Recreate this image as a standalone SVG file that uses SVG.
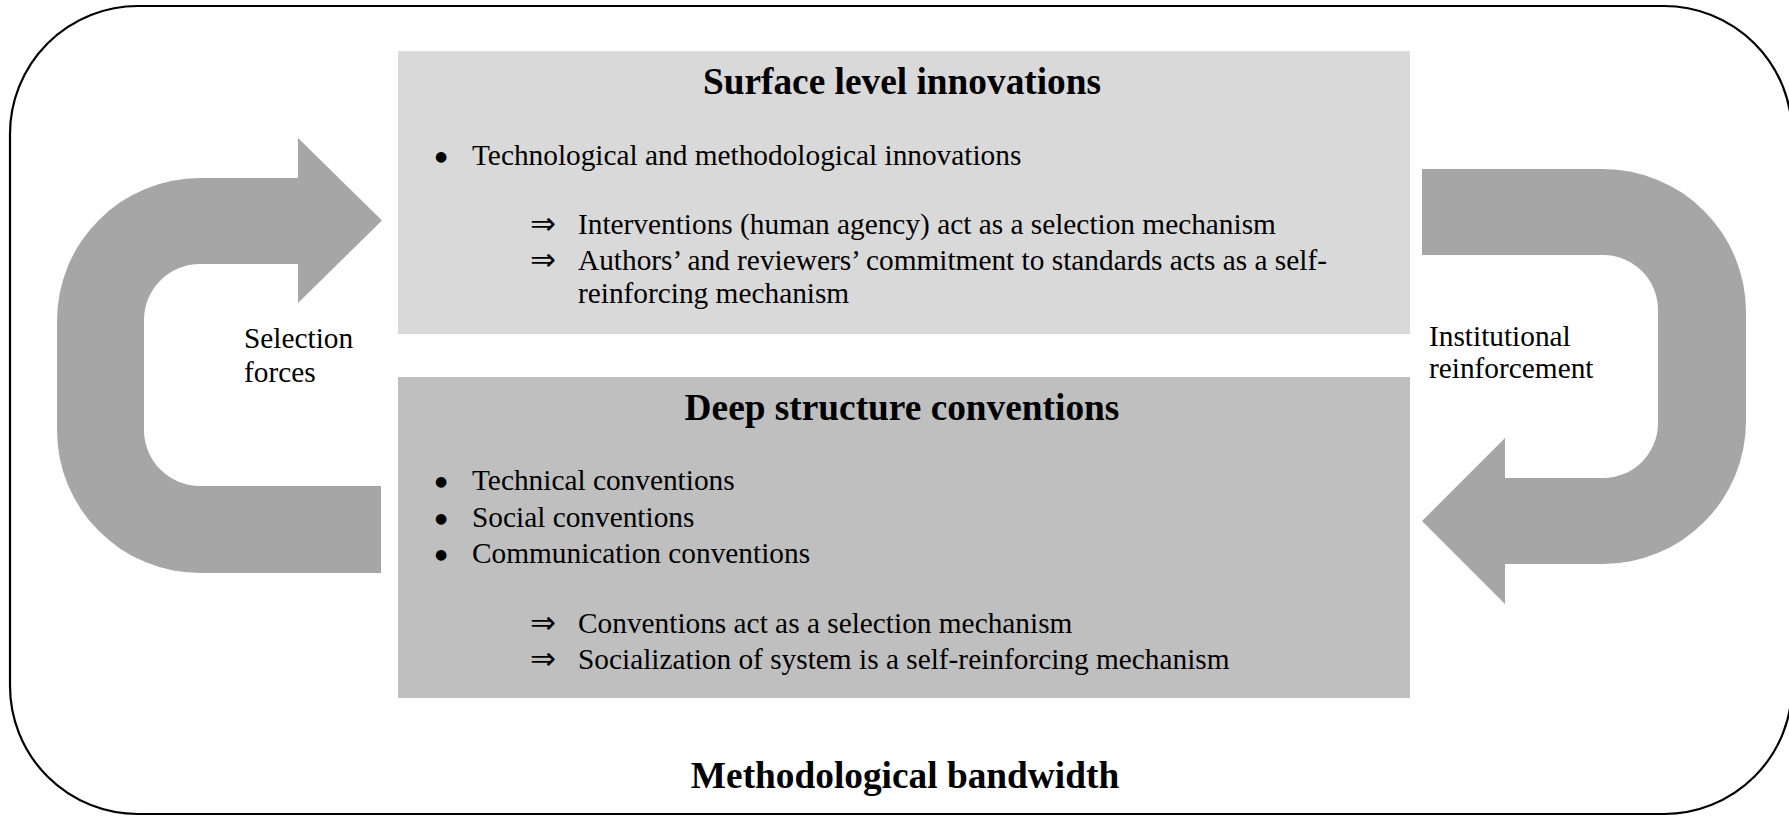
<svg xmlns="http://www.w3.org/2000/svg" width="1789" height="816" viewBox="0 0 1789 816">
  <style>
    text { font-family: 'Liberation Serif', 'Times New Roman', 'DejaVu Serif', serif; fill: #000; }
    .title { font-size: 37.33px; font-weight: bold; text-anchor: middle; }
    .body { font-size: 29.33px; }
    .bullet { font-family: 'DejaVu Sans', sans-serif; font-size: 14px; }
    .imp { font-family: 'Liberation Sans', 'DejaVu Sans', sans-serif; font-size: 31px; }
    .arrow { fill: #a6a6a6; stroke: none; }
    .frame { fill: #fff; stroke: #000; stroke-width: 2.2; }
  </style>
  <rect x="0" y="0" width="1789" height="816" fill="#fff"/>
  <g id="frame">
    <rect class="frame" x="10" y="6" width="1782" height="808" rx="128" ry="128"/>
  </g>

  <g id="connectors">
    <path id="arrow-selection" class="arrow" d="M 381 573 L 200 573 A 143 143 0 0 1 57 430 L 57 321 A 143 143 0 0 1 200 178 L 298 178 L 298 138 L 382 220.5 L 298 303 L 298 264 L 200 264 A 56 56 0 0 0 144 320 L 144 430 A 56 56 0 0 0 200 486 L 381 486 Z"/>
    <path id="arrow-institutional" class="arrow" d="M 1422 169 L 1603 169 A 143 143 0 0 1 1746 312 L 1746 421 A 143 143 0 0 1 1603 564 L 1505 564 L 1505 604 L 1422 521 L 1505 438 L 1505 478 L 1603 478 A 55 55 0 0 0 1658 423 L 1658 310 A 55 55 0 0 0 1603 255 L 1422 255 Z"/>
  </g>

  <g id="node-surface">
    <rect x="398" y="51" width="1012" height="283" fill="#d9d9d9"/>
    <text class="title" x="902" y="94">Surface level innovations</text>
    <text class="bullet" x="435" y="161">●</text>
    <text class="body" x="472" y="165">Technological and methodological innovations</text>
    <text class="imp" x="530" y="234">⇒</text>
    <text class="body" x="578" y="234">Interventions (human agency) act as a selection mechanism</text>
    <text class="imp" x="530" y="270">⇒</text>
    <text class="body" x="578" y="270">Authors’ and reviewers’ commitment to standards acts as a self-</text>
    <text class="body" x="578" y="303">reinforcing mechanism</text>
  </g>

  <g id="node-deep">
    <rect x="398" y="377" width="1012" height="321" fill="#bfbfbf"/>
    <text class="title" x="902" y="420">Deep structure conventions</text>
    <text class="bullet" x="435" y="486">●</text>
    <text class="body" x="472" y="490">Technical conventions</text>
    <text class="bullet" x="435" y="523">●</text>
    <text class="body" x="472" y="527">Social conventions</text>
    <text class="bullet" x="435" y="559">●</text>
    <text class="body" x="472" y="563">Communication conventions</text>
    <text class="imp" x="530" y="633">⇒</text>
    <text class="body" x="578" y="633">Conventions act as a selection mechanism</text>
    <text class="imp" x="530" y="669">⇒</text>
    <text class="body" x="578" y="669">Socialization of system is a self-reinforcing mechanism</text>
  </g>

  <g id="label-selection">
    <text class="body" x="244" y="348">Selection</text>
    <text class="body" x="244" y="382">forces</text>
  </g>

  <g id="label-institutional">
    <text class="body" x="1429" y="346">Institutional</text>
    <text class="body" x="1429" y="378">reinforcement</text>
  </g>

  <g id="label-bandwidth">
    <text class="title" x="905" y="788">Methodological bandwidth</text>
  </g>
</svg>
